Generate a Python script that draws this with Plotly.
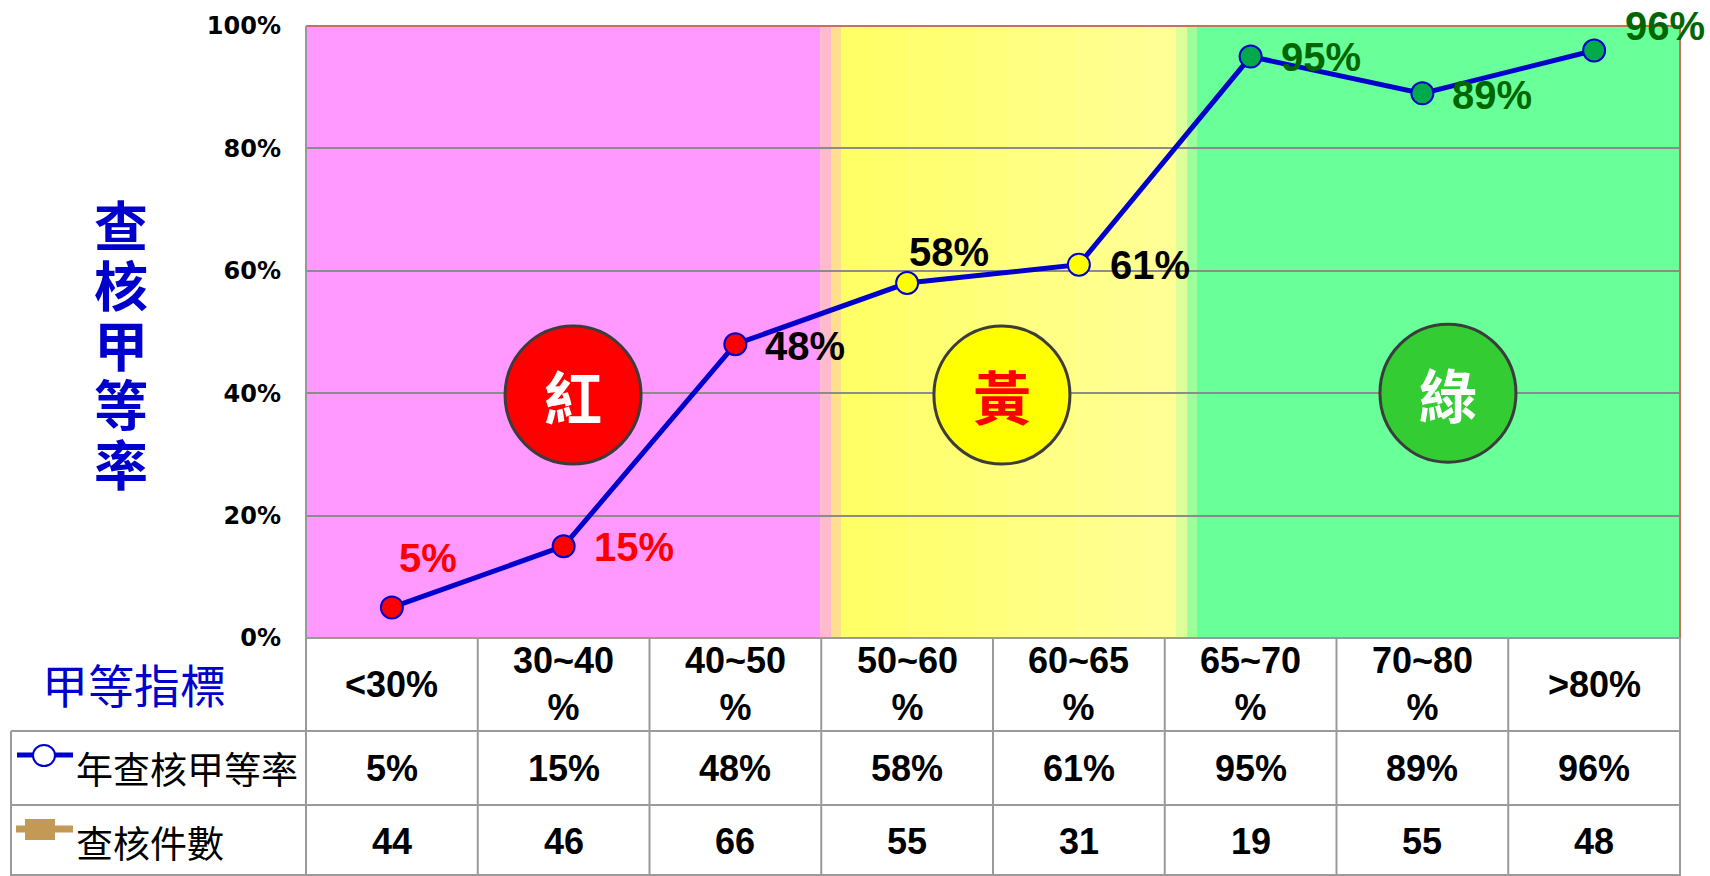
import numpy as np
import plotly.graph_objects as go

# ---------------- data ----------------
band_labels = ["<30%", "30~40<br>%", "40~50<br>%", "50~60<br>%",
               "60~65<br>%", "65~70<br>%", "70~80<br>%", ">80%"]
rate_values = [5, 15, 48, 58, 61, 95, 89, 96]          # 年查核甲等率 (%)
count_values = [44, 46, 66, 55, 31, 19, 55, 48]        # 查核件數
y_ticks = [0, 20, 40, 60, 80, 100]
zone_names = ["紅", "黃", "綠"]
y_title = "查核甲等率"

# ---------------- styles ----------------
W, H = 1710, 876
PL, PR, PT, PB = 306, 1680, 26, 638
BLUE = "#0000CC"
LAT = "Liberation Sans"
CJK = "Noto Sans CJK TC"

marker_colors = ["#FF0000"] * 3 + ["#FFFF00"] * 2 + ["#00AA4A"] * 3
label_colors = ["#FF0000"] * 2 + ["#000000"] * 3 + ["#006600"] * 3
label_xshift = [5, 28, 28, 0, 29, 28, 28, 29]
label_yshift = [49, -1, -2, 31, 0, 0, -2, 24]


def xp(px):
    return (px - PL) / (PR - PL)


def yp(py):
    return (PB - py) / (PB - PT)


fig = go.Figure()
fig.add_trace(go.Scatter(
    x=band_labels, y=rate_values, mode="lines+markers",
    line=dict(color=BLUE, width=5),
    marker=dict(size=22, color=marker_colors, line=dict(color=BLUE, width=2)),
    cliponaxis=False, hoverinfo="skip", showlegend=False,
))

shapes = []
# background zones (x in category units)
def band(x0, x1, color):
    shapes.append(dict(type="rect", xref="x", yref="paper", x0=x0, x1=x1, y0=0, y1=1,
                       fillcolor=color, line=dict(width=0), layer="below"))

band(-0.5, 2.493, "#FF99FF")
band(2.493, 2.557, "#FFBBCC")
band(2.557, 2.615, "#FFDF8C")
edges = np.linspace(2.615, 4.565, 11)
for i in range(10):
    g = int(round(102 + (150 - 102) * i / 9))
    band(edges[i], edges[i + 1] + 0.005, "rgb(255,255,%d)" % g)
band(4.565, 4.63, "#DCFF9A")
band(4.63, 4.688, "#9CFF9C")
band(4.688, 7.5, "#69FF99")

# zone circles
zone_pos = [(1.055, 39.7), (3.552, 39.7), (6.149, 40.0)]
zone_fill = ["#FF0000", "#FFFF00", "#33CC33"]
zone_text_color = ["#FFFFFF", "#FF0000", "#FFFFFF"]
for (cx, cy), fc in zip(zone_pos, zone_fill):
    shapes.append(dict(type="circle", xref="x", yref="y", xsizemode="pixel", ysizemode="pixel",
                       xanchor=cx, yanchor=cy, x0=-68, x1=68, y0=-69, y1=69,
                       fillcolor=fc, line=dict(color="#3C3C3C", width=3), layer="above"))

# plot frame
shapes.append(dict(type="line", xref="paper", yref="paper", x0=0, x1=1, y0=1, y1=1,
                   line=dict(color="#C8705E", width=2)))
shapes.append(dict(type="line", xref="paper", yref="paper", x0=1, x1=1, y0=0, y1=1,
                   line=dict(color="#C8705E", width=2)))
shapes.append(dict(type="line", xref="paper", yref="paper", x0=0, x1=0, y0=0, y1=1,
                   line=dict(color="#999999", width=2)))

# table grid
GRAY = dict(color="#9A9A9A", width=2)
n = len(band_labels)
for k in range(n + 1):
    shapes.append(dict(type="line", xref="paper", yref="paper", x0=k / n, x1=k / n,
                       y0=0, y1=yp(876), line=GRAY))
shapes.append(dict(type="line", xref="paper", yref="paper", x0=0, x1=1, y0=0, y1=0, line=GRAY))
for py in (731, 805, 875):
    shapes.append(dict(type="line", xref="paper", yref="paper", x0=xp(11), x1=1,
                       y0=yp(py), y1=yp(py), line=GRAY))
shapes.append(dict(type="line", xref="paper", yref="paper", x0=xp(11), x1=xp(11),
                   y0=yp(731), y1=yp(876), line=GRAY))

# legend icons in table row labels
shapes.append(dict(type="line", xref="paper", yref="paper", x0=xp(17), x1=xp(73),
                   y0=yp(755), y1=yp(755), line=dict(color=BLUE, width=5)))
shapes.append(dict(type="circle", xref="paper", yref="paper", x0=xp(33), x1=xp(55),
                   y0=yp(766), y1=yp(745), fillcolor="#FFFFFF", line=dict(color=BLUE, width=2)))
shapes.append(dict(type="line", xref="paper", yref="paper", x0=xp(16), x1=xp(73),
                   y0=yp(829), y1=yp(829), line=dict(color="#C39A55", width=7)))
shapes.append(dict(type="rect", xref="paper", yref="paper", x0=xp(25), x1=xp(55),
                   y0=yp(840), y1=yp(819), fillcolor="#C39A55", line=dict(width=0)))

ann = []
# data labels
for cat, v, c, dx, dy in zip(band_labels, rate_values, label_colors, label_xshift, label_yshift):
    ann.append(dict(x=cat, y=v, xref="x", yref="y", text=f"{v}%", showarrow=False,
                    xanchor="left", yanchor="middle", xshift=dx, yshift=dy,
                    font=dict(family=LAT, size=40, color=c, weight="bold")))
# zone circle labels
for name, (cx, cy), tc in zip(zone_names, zone_pos, zone_text_color):
    ann.append(dict(x=cx, y=cy, xref="x", yref="y", text=name, showarrow=False,
                    xanchor="center", yanchor="middle",
                    font=dict(family=CJK, size=58, color=tc, weight="bold")))
# y-axis title, stacked vertically (one text, one character per line)
title_text = "<br>".join(f'<span style="font-size:54px">{ch}</span>' for ch in y_title)
ann.append(dict(x=xp(121), y=yp(343), xref="paper", yref="paper", text=title_text,
                showarrow=False, xanchor="center", yanchor="middle",
                font=dict(family=CJK, size=46, color=BLUE, weight="bold")))
# table text
ann.append(dict(x=xp(134), y=yp(683), xref="paper", yref="paper", text="甲等指標", showarrow=False,
                xanchor="center", yanchor="middle",
                font=dict(family=CJK, size=46, color=BLUE)))
ann.append(dict(x=xp(74), y=yp(768), xref="paper", yref="paper", text="年查核甲等率", showarrow=False,
                xanchor="left", yanchor="middle", font=dict(family=CJK, size=37, color="#000000")))
ann.append(dict(x=xp(74), y=yp(842), xref="paper", yref="paper", text="查核件數", showarrow=False,
                xanchor="left", yanchor="middle", font=dict(family=CJK, size=37, color="#000000")))
for cat, v, cnt in zip(band_labels, rate_values, count_values):
    ann.append(dict(x=cat, y=yp(684), xref="x", yref="paper", text=cat, showarrow=False,
                    xanchor="center", yanchor="middle",
                    font=dict(family=LAT, size=36, color="#000000", weight="bold")))
    ann.append(dict(x=cat, y=yp(768), xref="x", yref="paper", text=f"{v}%", showarrow=False,
                    xanchor="center", yanchor="middle",
                    font=dict(family=LAT, size=36, color="#000000", weight="bold")))
    ann.append(dict(x=cat, y=yp(841), xref="x", yref="paper", text=f"{cnt}", showarrow=False,
                    xanchor="center", yanchor="middle",
                    font=dict(family=LAT, size=36, color="#000000", weight="bold")))

fig.update_layout(
    width=W, height=H,
    margin=dict(l=PL, r=W - PR, t=PT, b=H - PB, pad=0),
    paper_bgcolor="#FFFFFF", plot_bgcolor="#FFFFFF",
    showlegend=False,
    shapes=shapes, annotations=ann,
    xaxis=dict(type="category", categoryorder="array", categoryarray=band_labels,
               range=[-0.5, len(band_labels) - 0.5], showticklabels=False,
               showgrid=False, zeroline=False, showline=False, fixedrange=True),
    yaxis=dict(range=[0, 100], tickvals=y_ticks, ticktext=[f"{t}%" for t in y_ticks],
               showgrid=True, gridcolor="#8C8C8C", gridwidth=2, zeroline=False,
               showline=False, ticks="", ticklabelstandoff=24,
               tickfont=dict(family="DejaVu Sans", size=24, color="#000000", weight="bold"),
               fixedrange=True),
)

fig.write_html("out.html", config={"displayModeBar": False},
               post_script="document.body.style.margin='0';document.body.style.overflow='hidden';")
